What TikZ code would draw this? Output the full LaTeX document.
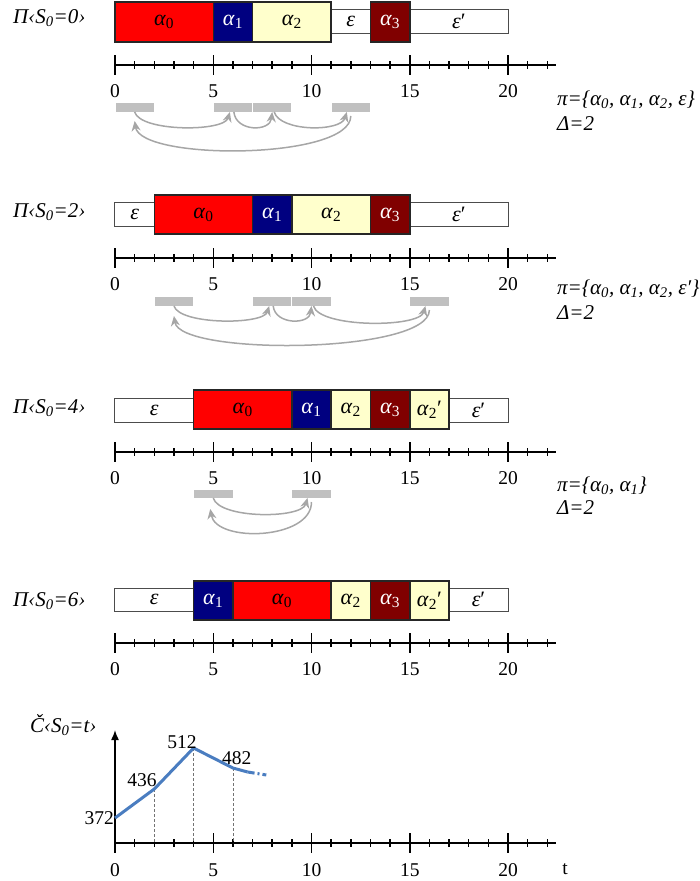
\documentclass[tikz,border=0pt]{standalone}
\usepackage{fontspec}
\setmainfont{Liberation Serif}
\usetikzlibrary{arrows.meta,calc}
\definecolor{navyc}{HTML}{000080}
\definecolor{darkredc}{HTML}{800000}
\definecolor{yellc}{HTML}{FFFFCC}
\definecolor{barc}{HTML}{C0C0C0}
\definecolor{arcc}{HTML}{A6A6A6}
\definecolor{curvec}{HTML}{4A7DC0}
\tikzset{
  segbox/.style={draw, inner sep=0pt, outer sep=0pt, anchor=north west, font=\fontsize{22}{24}\selectfont},
  tallseg/.style={segbox, line width=1.5pt, draw=black!85},
  thinseg/.style={segbox, line width=1pt, draw=black!70, fill=white},
  barbox/.style={fill=barc, draw=white, line width=0.8pt, inner sep=0pt, outer sep=0pt, anchor=north west, minimum width=39.3pt, minimum height=10pt},
  arcst/.style={draw=arcc, line width=1.5pt, -{Stealth[length=10pt,width=9pt]}},
  axlab/.style={font=\fontsize{19.5}{22}\selectfont},
  sidelab/.style={font=\fontsize{21}{23}\selectfont\itshape, anchor=west, inner sep=0pt},
  axisline/.style={line width=1.5pt},
  curvest/.style={draw=curvec, line width=3pt},
  vdash/.style={draw=black!55, line width=0.7pt, dash pattern=on 3pt off 2pt}
}
\newcommand\segnode[7]{\node[#6, minimum width={(#3-#2)*19.65pt}, minimum height={(#5-#4)*1pt}] (#1) at (#2,#4) {#7};}
\newcommand\axisrow[2]{%
  \draw[axisline] (0,#2) -- (22.45,#2);
  \foreach \i in {0,...,22} {\draw[axisline] (\i,{#2-4}) -- (\i,{#2+4});}
  \foreach \i in {0,5,...,20} {\draw[axisline] (\i,{#2-10}) -- (\i,{#2+10});}
  \foreach \i in {0,5,...,20} {\node[axlab] (#1-\i) at (\i,{#2+26}) {\i};}
}
\newcommand\al[1]{\textit{α}\textsubscript{#1}}
\newcommand\ali[1]{\textit{α\textsubscript{#1}}}
\begin{document}
\begin{tikzpicture}[x=19.65pt,y=-1pt]
\useasboundingbox (-5.8524,0) rectangle (29.7201,881);

% ---------- Row 1 ----------
\node[sidelab] (lab1) at (-5.19,18) {Π‹S\textsubscript{0}=0›};
\segnode{r1e}{11}{13}{9}{33}{thinseg}{\textit{ε}}
\segnode{r1ep}{15}{20}{9}{33}{thinseg}{\textit{ε}′}
\segnode{r1a0}{0}{5}{2}{42}{tallseg,fill=red}{\al{0}}
\segnode{r1a1}{5}{7}{2}{42}{tallseg,fill=navyc,text=white}{\al{1}}
\segnode{r1a2}{7}{11}{2}{42}{tallseg,fill=yellc}{\al{2}}
\segnode{r1a3}{13}{15}{2}{42}{tallseg,fill=darkredc,text=white}{\al{3}}
\axisrow{ax1}{65}
\node[barbox] (r1b1) at (0,102) {};
\node[barbox] (r1b2) at (5,102) {};
\node[barbox] (r1b3) at (7,102) {};
\node[barbox] (r1b4) at (11,102) {};
\draw[arcst] (r1b1.south) .. controls +(0.3,20) and +(-0.3,20) .. ([xshift=-3pt]r1b2.south);
\draw[arcst] ([xshift=1pt]r1b2.south) .. controls +(0.1,20) and +(-0.1,20) .. (r1b3.south);
\draw[arcst] ([xshift=2pt]r1b3.south) .. controls +(0.3,20) and +(-0.3,20) .. ([xshift=-4pt]r1b4.south);
\draw[arcst] ([xshift=0pt,yshift=-4pt]r1b4.south) .. controls +(0,44) and +(0.3,40) .. ([yshift=-9pt]r1b1.south);
\node[sidelab] (pi1) at (22.49,100) {π=\{\ali{0}, \ali{1}, \ali{2}, ε\}};
\node[sidelab] (d1) at (22.49,124) {Δ=2};

% ---------- Row 2 ----------
\node[sidelab] (lab2) at (-5.19,212) {Π‹S\textsubscript{0}=2›};
\segnode{r2e}{0}{2}{202}{226}{thinseg}{\textit{ε}}
\segnode{r2ep}{15}{20}{202}{226}{thinseg}{\textit{ε}′}
\segnode{r2a0}{2}{7}{195}{234}{tallseg,fill=red}{\al{0}}
\segnode{r2a1}{7}{9}{195}{234}{tallseg,fill=navyc,text=white}{\al{1}}
\segnode{r2a2}{9}{13}{195}{234}{tallseg,fill=yellc}{\al{2}}
\segnode{r2a3}{13}{15}{195}{234}{tallseg,fill=darkredc,text=white}{\al{3}}
\axisrow{ax2}{258}
\node[barbox] (r2b1) at (2,296) {};
\node[barbox] (r2b2) at (7,296) {};
\node[barbox] (r2b3) at (9,296) {};
\node[barbox] (r2b4) at (15,296) {};
\draw[arcst] (r2b1.south) .. controls +(0.3,19) and +(-0.3,19) .. ([xshift=-3pt]r2b2.south);
\draw[arcst] ([xshift=1pt]r2b2.south) .. controls +(0.1,19) and +(-0.1,19) .. (r2b3.south);
\draw[arcst] ([xshift=2pt]r2b3.south) .. controls +(0.3,22) and +(-0.3,22) .. ([xshift=-4pt]r2b4.south);
\draw[arcst] ([yshift=-4pt]r2b4.south) .. controls +(0,44) and +(0.3,40) .. ([yshift=-10pt]r2b1.south);
\node[sidelab] (pi2) at (22.49,289) {π=\{\ali{0}, \ali{1}, \ali{2}, ε′\}};
\node[sidelab] (d2) at (22.49,313) {Δ=2};

% ---------- Row 3 ----------
\node[sidelab] (lab3) at (-5.19,408) {Π‹S\textsubscript{0}=4›};
\segnode{r3e}{0}{4}{398}{422}{thinseg}{\textit{ε}}
\segnode{r3ep}{17}{20}{398}{422}{thinseg}{\textit{ε}′}
\segnode{r3a0}{4}{9}{390}{429}{tallseg,fill=red}{\al{0}}
\segnode{r3a1}{9}{11}{390}{429}{tallseg,fill=navyc,text=white}{\al{1}}
\segnode{r3a2}{11}{13}{390}{429}{tallseg,fill=yellc}{\al{2}}
\segnode{r3a3}{13}{15}{390}{429}{tallseg,fill=darkredc,text=white}{\al{3}}
\segnode{r3a2p}{15}{17}{390}{429}{tallseg,fill=yellc}{\al{2}′}
\axisrow{ax3}{452}
\node[barbox, minimum height=9pt] (r3b1) at (4,489) {};
\node[barbox, minimum height=9pt] (r3b2) at (9,489) {};
\draw[arcst] (r3b1.south) .. controls +(0.3,21) and +(-0.3,21) .. ([xshift=-4pt]r3b2.south);
\draw[arcst] ([yshift=-4pt]r3b2.south) .. controls +(0,38) and +(0.3,34) .. ([xshift=-3pt,yshift=-11pt]r3b1.south);
\node[sidelab] (pi3) at (22.49,486) {π=\{\ali{0}, \ali{1}\}};
\node[sidelab] (d3) at (22.49,508) {Δ=2};

% ---------- Row 4 ----------
\node[sidelab] (lab4) at (-5.19,601) {Π‹S\textsubscript{0}=6›};
\segnode{r4e}{0}{4}{588}{611}{thinseg}{\textit{ε}}
\segnode{r4ep}{17}{20}{588}{611}{thinseg}{\textit{ε}′}
\segnode{r4a1}{4}{6}{581}{620}{tallseg,fill=navyc,text=white}{\al{1}}
\segnode{r4a0}{6}{11}{581}{620}{tallseg,fill=red}{\al{0}}
\segnode{r4a2}{11}{13}{581}{620}{tallseg,fill=yellc}{\al{2}}
\segnode{r4a3}{13}{15}{581}{620}{tallseg,fill=darkredc,text=white}{\al{3}}
\segnode{r4a2p}{15}{17}{581}{620}{tallseg,fill=yellc}{\al{2}′}
\axisrow{ax4}{643}

% ---------- Cost chart ----------
\node[sidelab] (clab) at (-4.33,725) {Č‹S\textsubscript{0}=t›};
\draw[axisline] (0,843) -- (22.45,843);
\foreach \i in {0,...,22} {\draw[axisline] (\i,839) -- (\i,847);}
\foreach \i in {0,5,...,20} {\draw[axisline] (\i,833) -- (\i,853);}
\foreach \i in {0,5,...,20} {\node[axlab] (ax5-\i) at (\i,870) {\i};}
\node[axlab] (tlab) at (22.9,869) {t};
\coordinate (yorig) at (0,843);
\coordinate (ytop) at (0,730);
\draw[axisline, -{Latex[length=10pt,width=8pt]}] (yorig) -- (ytop);
\coordinate (c0) at (0,818);
\coordinate (c2) at (2,789);
\coordinate (c4) at (4,748);
\coordinate (c6) at (6,768);
\coordinate (c7) at (6.75,772);
\coordinate (c8) at (7.7,775);
\coordinate (f2) at (2,843);
\coordinate (f4) at (4,843);
\coordinate (f6) at (6,843);
\draw[vdash] (c2) -- (f2);
\draw[vdash] (c4) -- (f4);
\draw[vdash] (c6) -- (f6);
\draw[curvest, line join=round] (c0) -- (c2) -- (c4) -- (c6) -- (c7);
\draw[curvest, dash pattern=on 7pt off 3pt on 2pt off 3pt] (c7) -- (c8);
\node[axlab, anchor=east, inner sep=1pt] (v372) at (c0) {372};
\node[axlab] (v436) at (1.37,780) {436};
\node[axlab] (v512) at (3.41,742) {512};
\node[axlab] (v482) at (6.2,758) {482};
\end{tikzpicture}
\end{document}
